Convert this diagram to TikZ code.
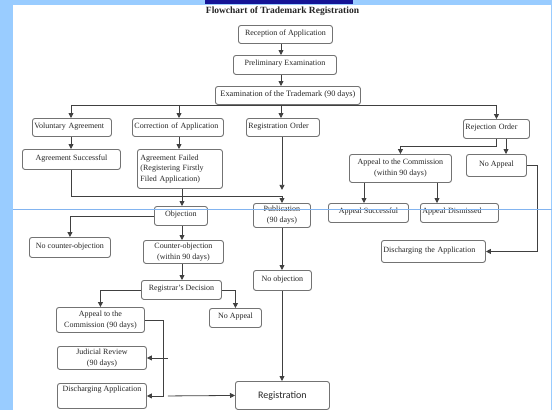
\documentclass[tikz,border=0pt]{standalone}
\usepackage{fontspec}
\setmainfont{Liberation Serif}
\newfontfamily\regfont{Carlito}
\usetikzlibrary{arrows.meta}
\definecolor{lb}{RGB}{153,204,255}
\definecolor{navyb}{RGB}{20,20,150}
\definecolor{hl}{RGB}{130,180,240}
\begin{document}
\begin{tikzpicture}[x=1pt,y=-1pt,
 bx/.style={draw=black!55, line width=0.9pt, rounded corners=2.5pt, anchor=north west,
   inner xsep=2pt, inner ysep=1pt, font=\fontsize{8}{10.8}\selectfont, text=black!85, align=center},
 one/.style={text height=6pt, text depth=4pt},
 ln/.style={draw=black!75, line width=0.8pt},
 arr/.style={ln, -{Triangle[length=5pt,width=5pt]}},
]
\useasboundingbox (0,0) rectangle (552,410);
\fill[white] (0,0) rectangle (552,410);
\fill[lb] (0,0) rectangle (13,410);
\fill[lb] (0,0) rectangle (552,5);
\draw[lb, line width=1pt] (551.5,0) -- (551.5,410);
\fill[navyb] (205,0) rectangle (353,3.5);

\coordinate (xA) at (281,0);
\coordinate (xB) at (282,0);
\coordinate (xC) at (182,0);
\coordinate (xV) at (71,0);
\coordinate (xK) at (179,0);
\coordinate (xR) at (506,0);
\coordinate (xS) at (364,0);
\coordinate (xD) at (437,0);

\node[font=\bfseries\fontsize{9.5}{11}\selectfont, text=black!85] (title) at (282.5,11) {Flowchart of Trademark Registration};

\node[bx,one,minimum width=94pt,minimum height=18pt] (rec) at (238,25) {Reception of Application};
\node[bx,one,minimum width=103pt,minimum height=19pt] (pre) at (233,55) {Preliminary Examination};
\node[bx,one,minimum width=145pt,minimum height=18pt,font=\fontsize{8.3}{10.8}\selectfont] (exam) at (215,86) {Examination of the Trademark (90~days)};

\node[bx,one,text width=75pt,align=left,minimum height=18pt] (vol) at (32,118) {Voluntary Agreement};
\node[bx,one,text width=87pt,align=left,minimum height=18pt] (cor) at (132,118) {Correction of Application};
\node[bx,one,text width=69pt,align=left,minimum height=18pt] (rego) at (246,118) {Registration Order};
\node[bx,one,text width=62pt,align=left,minimum height=19pt] (rej) at (463,119) {Rejection Order};

\node[bx,one,minimum width=98pt,minimum height=20pt] (agsucc) at (22,149) {Agreement Successful};
\node[bx,inner xsep=3pt,text width=79pt,align=left,minimum height=39pt] (agfail) at (137,149) {Agreement Failed\\(Registering Firstly\\Filed Application)};

\node[bx,one,minimum width=53pt,minimum height=19pt] (obj) at (154,206) {Objection};
\node[bx,minimum width=57pt,minimum height=24pt] (pub) at (253,203) {Publication\\(90 days)};

\node[bx,minimum width=102pt,minimum height=28pt] (appc) at (349,154) {Appeal to the Commission\\(within 90 days)};
\node[bx,one,minimum width=60pt,minimum height=22pt] (noap1) at (466,154) {No Appeal};
\node[bx,one,minimum width=80pt,minimum height=19pt] (apsucc) at (328,203) {Appeal Successful};
\node[bx,one,text width=74pt,align=left,minimum height=19pt] (apdis) at (420,203) {Appeal Dismissed};
\node[bx,one,text width=100pt,align=left,minimum height=22pt] (disch) at (381,240) {Discharging the Application};

\node[bx,one,minimum width=81pt,minimum height=20pt] (nocounter) at (29,237) {No counter-objection};
\node[bx,minimum width=80pt,minimum height=23pt] (counter) at (143,240) {Counter-objection\\(within 90 days)};
\node[bx,one,minimum width=80pt,minimum height=19pt] (regd) at (141,280) {Registrar's Decision};
\node[bx,minimum width=88pt,minimum height=25pt] (appc2) at (56,307) {Appeal to the\\Commission (90 days)};
\node[bx,one,minimum width=52pt,minimum height=19pt] (noap2) at (209,308) {No Appeal};
\node[bx,minimum width=89pt,minimum height=23pt] (jud) at (57,346) {Judicial Review\\(90 days)};
\node[bx,text height=6pt,text depth=15pt,minimum width=89pt,minimum height=25pt] (disap) at (57,383) {Discharging Application};
\node[bx,one,minimum width=58pt,minimum height=20pt] (noobj) at (253,270) {No objection};
\node[bx,minimum width=94pt,minimum height=28pt,font=\regfont\fontsize{10}{12}\selectfont] (reg) at (235,381) {Registration};

% connectors
\draw[arr] (rec.south -| xA) -- (pre.north -| xA);
\draw[arr] (pre.south -| xA) -- (exam.north -| xA);
\draw[ln] (exam.south -| xV) -- (exam.south -| rej.north);
\draw[arr] (exam.south -| xV) -- (vol.north -| xV);
\draw[arr] (exam.south -| xK) -- (cor.north -| xK);
\draw[arr] (exam.south -| xA) -- (rego.north -| xA);
\draw[arr] (exam.south -| rej.north) -- (rej.north);

\draw[arr] (vol.south -| xV) -- (agsucc.north -| xV);
\draw[arr] (cor.south -| xK) -- (agfail.north -| xK);
\draw[arr] (rego.south -| xB) -- ++(0,53);
\draw[arr] (agsucc.south -| xV) -- ++(0,26) -| (pub.north -| xB);
\draw[arr] (agfail.south -| xC) -- (obj.north -| xC);

\draw[arr] (rej.south) -- ++(0,7) -| (appc.north);
\draw[arr] (rej.south -| xR) -- (noap1.north -| xR);
\draw[arr] (appc.south -| xS) -- (apsucc.north -| xS);
\draw[arr] (appc.south -| xD) -- (apdis.north -| xD);
\draw[arr] (noap1.east) -- ++(10,0) |- (disch.east);

\draw[arr] (obj.west) -| (nocounter.north);
\draw[arr] (obj.south -| xC) -- (counter.north -| xC);
\draw[arr] (counter.south -| xC) -- (regd.north -| xC);
\draw[arr] (regd.west) -| (appc2.north);
\draw[arr] (regd.east) -| (noap2.north);
\draw[arr] (appc2.east) -- ++(18,0) |- (disap.east);
\draw[arr] ([xshift=21pt]jud.east) -- (jud.east);
\draw[arr] ([xshift=21pt]disap.east) -- (reg.west);

\draw[arr] (pub.south -| xB) -- (noobj.north -| xB);
\draw[arr] (noobj.south -| xB) -- (reg.north -| xB);

\draw[hl, line width=0.8pt] (13,209) -- (552,209);
\end{tikzpicture}
\end{document}
